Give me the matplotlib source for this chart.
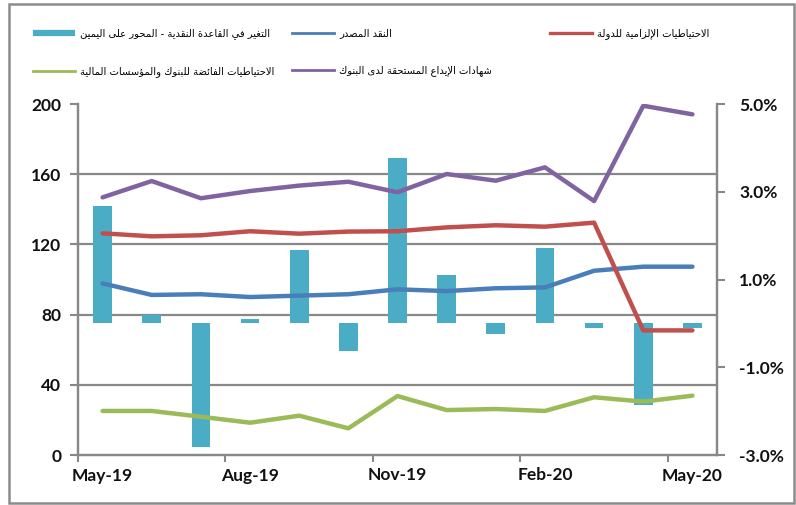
import numpy as np
import matplotlib
matplotlib.use("Agg")
import matplotlib.pyplot as plt
from matplotlib.lines import Line2D
from matplotlib.patches import Rectangle
from matplotlib.ticker import FixedLocator, FuncFormatter

# ---------------- data ----------------
months = ["May-19", "Jun-19", "Jul-19", "Aug-19", "Sep-19", "Oct-19", "Nov-19",
          "Dec-19", "Jan-20", "Feb-20", "Mar-20", "Apr-20", "May-20"]
base_change = [2.67, 0.19, -2.82, 0.09, 1.67, -0.64, 3.76, 1.11, -0.25, 1.72, -0.10, -1.85, -0.10]
currency_issued = [97.8, 91.2, 91.6, 90.0, 90.8, 91.6, 94.4, 93.4, 95.0, 95.5, 105.0, 107.3, 107.3]
required_reserves = [126.3, 124.6, 125.2, 127.5, 126.1, 127.3, 127.5, 129.7, 130.9, 130.1, 132.4, 71.0, 71.0]
excess_reserves = [25.1, 25.1, 21.8, 18.4, 22.4, 15.2, 33.6, 25.6, 26.2, 25.1, 32.9, 30.4, 33.8]
deposit_certs = [146.8, 156.1, 146.3, 150.4, 153.5, 155.7, 149.7, 160.1, 156.3, 163.9, 144.7, 199.0, 194.1]

label_bars = "التغير في القاعدة النقدية - المحور على اليمين"
label_currency = "النقد المصدر"
label_required = "الاحتياطيات الإلزامية للدولة"
label_excess = "الاحتياطيات الفائضة للبنوك والمؤسسات المالية"
label_certs = "شهادات الإيداع المستحقة لدى البنوك"

left_ticks = [0, 40, 80, 120, 160, 200]
right_ticks = [-3.0, -1.0, 1.0, 3.0, 5.0]
label_positions = [0, 3, 6, 9, 12]

# ---------------- minimal Arabic shaping ----------------
_dual = {
    'ئ': 0xFE89, 'ب': 0xFE8F, 'ت': 0xFE95, 'ث': 0xFE99, 'ج': 0xFE9D, 'ح': 0xFEA1,
    'خ': 0xFEA5, 'س': 0xFEB1, 'ش': 0xFEB5, 'ص': 0xFEB9, 'ض': 0xFEBD, 'ط': 0xFEC1,
    'ظ': 0xFEC5, 'ع': 0xFEC9, 'غ': 0xFECD, 'ف': 0xFED1, 'ق': 0xFED5, 'ك': 0xFED9,
    'ل': 0xFEDD, 'م': 0xFEE1, 'ن': 0xFEE5, 'ه': 0xFEE9, 'ي': 0xFEF1,
}
_right = {
    'آ': 0xFE81, 'أ': 0xFE83, 'ؤ': 0xFE85, 'إ': 0xFE87, 'ا': 0xFE8D, 'ة': 0xFE93,
    'د': 0xFEA9, 'ذ': 0xFEAB, 'ر': 0xFEAD, 'ز': 0xFEAF, 'و': 0xFEED, 'ى': 0xFEEF,
}
_lamalef = {'آ': 0xFEF5, 'أ': 0xFEF7, 'إ': 0xFEF9, 'ا': 0xFEFB}


def shape_ar(text):
    chars = []
    i = 0
    while i < len(text):
        c = text[i]
        if c == 'ل' and i + 1 < len(text) and text[i + 1] in _lamalef:
            chars.append(('LA', text[i + 1]))
            i += 2
        else:
            chars.append(('C', c))
            i += 1

    def joins_next(item):
        k, c = item
        return k == 'C' and c in _dual

    def joins_prev(item):
        k, c = item
        return k == 'LA' or c in _dual or c in _right

    out = []
    for j, item in enumerate(chars):
        k, c = item
        prev_j = j > 0 and joins_next(chars[j - 1]) and joins_prev(item)
        nxt = j + 1 < len(chars) and joins_next(item) and joins_prev(chars[j + 1])
        if k == 'LA':
            out.append(chr(_lamalef[c] + (1 if prev_j else 0)))
        elif c in _dual:
            b = _dual[c]
            if prev_j and nxt:
                out.append(chr(b + 3))
            elif nxt:
                out.append(chr(b + 2))
            elif prev_j:
                out.append(chr(b + 1))
            else:
                out.append(chr(b))
        elif c in _right:
            out.append(chr(_right[c] + (1 if prev_j else 0)))
        else:
            out.append(c)
    return ''.join(reversed(out))


# ---------------- colours ----------------
c_bar = "#4BACC6"
c_blue = "#4A7EBB"
c_red = "#C0504D"
c_green = "#9BBB59"
c_purple = "#8064A2"
c_grid = "#888888"

W, H = 796, 505
fig = plt.figure(figsize=(W / 100, H / 100), dpi=100)
fig.patch.set_facecolor("white")

# outer frame
fig.add_artist(Rectangle((9 / W, 1 - 503 / H), (794 - 9) / W, (503 - 4) / H,
                         transform=fig.transFigure, fill=False,
                         edgecolor="#8c8c8c", lw=1.8))

L, R, T, B = 78, 717, 104, 455
ax = fig.add_axes([L / W, 1 - B / H, (R - L) / W, (B - T) / H])
ax2 = ax.twinx()
ax2.set_zorder(ax.get_zorder() + 1)
ax2.patch.set_visible(False)

x = np.arange(len(months))

# bars on percent scale (bottom axes)
ax.bar(x, base_change, width=0.38, color=c_bar, zorder=2)
ax.set_ylim(-3, 5)
ax.set_xlim(-0.5, len(months) - 0.5)

# lines on left scale (top axes)
lw = 3.2
for series, col in ((currency_issued, c_blue), (required_reserves, c_red),
                    (excess_reserves, c_green), (deposit_certs, c_purple)):
    ax2.plot(x, series, color=col, lw=lw, solid_capstyle="round", solid_joinstyle="round")
ax2.set_ylim(0, 200)

# gridlines at left-scale ticks, drawn on the bottom axes behind the bars
lo, hi = ax2.get_ylim()
rlo, rhi = ax.get_ylim()
grid_pos = [rlo + (v - lo) / (hi - lo) * (rhi - rlo) for v in left_ticks]
ax.yaxis.set_minor_locator(FixedLocator(grid_pos))
ax.grid(True, which="minor", axis="y", color=c_grid, lw=1.6, zorder=0)
ax.set_axisbelow(True)
ax.tick_params(axis="y", which="minor", length=0)

# axes: ticks
ax.yaxis.tick_right()
ax.set_yticks(right_ticks)
ax.yaxis.set_major_formatter(FuncFormatter(lambda v, p: f"{v:.1f}%"))
ax.tick_params(axis="y", which="major", direction="out", length=6, width=1.5,
               color=c_grid, pad=10)

ax2.yaxis.tick_left()
ax2.set_yticks(left_ticks)
ax2.tick_params(axis="y", direction="out", length=6, width=1.5, color=c_grid, pad=6)

ax.set_xticks(label_positions)
ax.set_xticklabels([months[i] for i in label_positions])
ax.tick_params(axis="x", which="major", length=0, pad=9)
ax.xaxis.set_minor_locator(FixedLocator([p - 0.5 for p in label_positions]))
ax.tick_params(axis="x", which="minor", direction="out", length=5, width=1.5, color=c_grid)
ax2.tick_params(axis="x", length=0)

for lab in ax.get_xticklabels() + ax.get_yticklabels() + ax2.get_yticklabels():
    lab.set_fontfamily("Lato")
    lab.set_fontweight("bold")
    lab.set_fontsize(12.5)
    lab.set_color("#111111")

for a in (ax, ax2):
    a.spines["top"].set_visible(False)
    for s in ("left", "right", "bottom"):
        a.spines[s].set_color(c_grid)
        a.spines[s].set_linewidth(1.6)

# ---------------- legend (three column groups) ----------------
leg_font = dict(family="DejaVu Sans", size=7.2)
h_bar = Line2D([], [], color=c_bar, lw=4.5, solid_capstyle="butt")
h_blue = Line2D([], [], color=c_blue, lw=2)
h_red = Line2D([], [], color=c_red, lw=2.4)
h_green = Line2D([], [], color=c_green, lw=2)
h_purple = Line2D([], [], color=c_purple, lw=2)

groups = [
    ([h_bar, h_green], [label_bars, label_excess], 33),
    ([h_blue, h_purple], [label_currency, label_certs], 292),
    ([h_red], [label_required], 550),
]
for handles, labels, px in groups:
    fig.legend(handles, [shape_ar(s) for s in labels], loc="upper left",
               bbox_to_anchor=(px / W, 1 - 28 / H), frameon=False,
               prop=leg_font, handlelength=4.2, handletextpad=0.5,
               labelspacing=2.75, borderaxespad=0, borderpad=0)

fig.savefig("out.png", dpi=100, facecolor="white")
